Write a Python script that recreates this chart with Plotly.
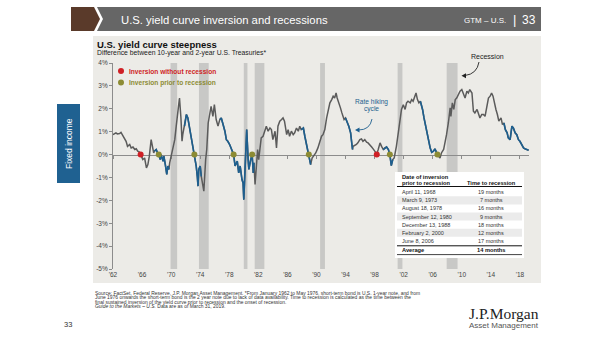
import plotly.graph_objects as go

# ---------------- data ----------------
dates = [
    1962.0, 1962.2, 1962.4, 1962.6, 1962.9, 1963.1, 1963.35, 1963.6, 1963.8, 1964.0,
    1964.3, 1964.5, 1964.75, 1965.0, 1965.2, 1965.4, 1965.6, 1965.8, 1966.1, 1966.35,
    1966.6, 1966.8, 1967.0, 1967.25, 1967.4, 1967.6, 1967.7, 1967.95, 1968.1, 1968.3,
    1968.5, 1968.6, 1968.9, 1969.0, 1969.2, 1969.4, 1969.55, 1969.7, 1969.8, 1970.0,
    1970.25, 1970.5, 1970.7, 1970.85, 1971.0, 1971.15, 1971.35, 1971.5, 1971.6, 1971.85,
    1972.1, 1972.3, 1972.5, 1972.75, 1972.96, 1973.2, 1973.45, 1973.6, 1973.7, 1973.8,
    1974.0, 1974.15, 1974.3, 1974.5, 1974.75, 1974.9, 1975.1, 1975.3, 1975.5, 1975.75,
    1975.95, 1976.2, 1976.45, 1976.7, 1976.9,
    1977.15, 1977.4, 1977.6, 1977.8, 1978.05, 1978.3, 1978.6, 1978.8, 1979.1, 1979.3,
    1979.5, 1979.75, 1979.9, 1980.0, 1980.2, 1980.4, 1980.6, 1980.7, 1980.95, 1981.15,
    1981.3, 1981.4, 1981.55, 1981.7, 1981.9, 1982.05, 1982.25, 1982.4, 1982.65, 1982.9,
    1983.1, 1983.35, 1983.6, 1983.8, 1984.0, 1984.3, 1984.5, 1984.7, 1984.95, 1985.2,
    1985.4, 1985.6, 1985.9, 1986.1, 1986.3, 1986.55, 1986.8, 1987.0, 1987.25, 1987.5,
    1987.7, 1987.9, 1988.2, 1988.4, 1988.6, 1988.95, 1989.2, 1989.4, 1989.6, 1989.9,
    1990.2, 1990.45, 1990.7, 1990.9, 1991.15,
    1991.4, 1991.6, 1991.85, 1992.1, 1992.3, 1992.5, 1992.7, 1992.85, 1993.1, 1993.3,
    1993.5, 1993.8, 1994.0, 1994.2, 1994.45, 1994.7, 1994.8, 1994.96, 1995.05, 1995.3,
    1995.5, 1995.7, 1995.97, 1996.2, 1996.4, 1996.65, 1996.9, 1997.1, 1997.35, 1997.6,
    1997.8, 1998.05, 1998.3, 1998.5, 1998.75, 1998.96, 1999.2, 1999.4, 1999.65, 1999.9,
    2000.1, 2000.3, 2000.5, 2000.7, 2000.85, 2001.0, 2001.26, 2001.5, 2001.7, 2001.95,
    2002.2, 2002.4, 2002.6, 2002.9, 2003.1, 2003.3, 2003.55, 2003.7, 2003.9, 2004.1,
    2004.3, 2004.6, 2004.8, 2005.0, 2005.25, 2005.5,
    2005.65, 2005.86, 2006.1, 2006.3, 2006.65, 2006.8, 2007.0, 2007.2, 2007.5, 2007.7,
    2007.9, 2008.15, 2008.4, 2008.5, 2008.7, 2008.9, 2009.1, 2009.3, 2009.5, 2009.76,
    2010.0, 2010.2, 2010.45, 2010.7, 2010.9, 2011.1, 2011.4, 2011.6, 2011.8, 2012.1,
    2012.3, 2012.5, 2012.75, 2012.98, 2013.2, 2013.4, 2013.67, 2013.9, 2014.1, 2014.3,
    2014.5, 2014.7, 2014.9, 2015.1, 2015.4, 2015.6, 2015.8, 2016.0, 2016.24, 2016.4,
    2016.65, 2016.9, 2017.1, 2017.34, 2017.57, 2017.8, 2018.0, 2018.26, 2018.5, 2018.7,
    2018.95, 2019.2,
]
spread = [
    0.87, 0.90, 0.95, 0.90, 0.92, 0.97, 0.83, 0.65, 0.58, 0.36,
    0.44, 0.29, 0.33, 0.22, 0.25, 0.15, 0.12, 0.00, -0.22, -0.15,
    -0.58, -0.44, -0.07, 0.65, 0.36, 0.07, 0.15, 0.22, 0.10, 0.00,
    -0.22, 0.00, -0.29, -0.07, -0.44, -0.87, -0.50, -0.65, -0.36, -0.07,
    0.29, 0.65, 1.24, 1.60, 1.97, 2.47, 1.60, 0.58, 0.87, 1.24,
    1.75, 1.60, 1.24, 0.80, 0.36, 0.03, -0.50, -0.95, -1.38, -0.65,
    -0.50, -0.95, -1.31, -1.60, -0.22, 0.22, 1.38, 1.75, 2.10, 1.67,
    2.18, 1.53, 1.24, 1.53, 1.60,
    1.31, 1.02, 0.65, 0.58, 0.44, 0.22, 0.00, -0.50, -0.29, -0.80,
    -0.50, -1.09, -1.24, -1.97, -0.22, 1.09, -0.22, -0.65, -0.22, 0.00,
    -0.80, -0.36, -1.31, -0.50, 0.22, -0.22, 0.36, 0.73, 0.80, 1.09,
    1.24, 1.02, 1.16, 1.09, 0.65, 1.02, 0.29, 1.24, 1.46, 1.53,
    1.60, 1.46, 0.87, 1.09, 0.80, 1.02, 0.87, 0.95, 1.16, 1.02,
    1.24, 1.09, 1.16, 0.80, 0.51, 0.00, -0.44, -0.15, -0.07, 0.07,
    0.29, 0.50, 0.80, 0.87, 1.09,
    1.60, 1.89, 2.26, 2.40, 2.55, 2.47, 2.69, 2.47, 2.26, 2.04,
    1.82, 1.53, 1.60, 1.46, 1.24, 0.95, 0.51, 0.22, 0.36, 0.39,
    0.44, 0.51, 0.65, 0.68, 0.58, 0.65, 0.54, 0.51, 0.44, 0.33,
    0.25, 0.15, 0.03, 0.22, 0.51, 0.36, 0.22, 0.29, 0.33, 0.22,
    0.00, -0.48, -0.22, -0.15, 0.07, 0.36, 0.95, 1.53, 1.97, 2.18,
    1.97, 2.26, 2.33, 2.26, 2.40, 2.33, 2.55, 2.69, 2.40, 2.26,
    2.33, 1.97, 1.60, 1.31, 0.87, 0.44,
    0.29, 0.10, 0.15, 0.25, 0.00, -0.07, -0.15, 0.07, 0.22, 0.65,
    0.87, 1.38, 2.04, 1.67, 2.26, 1.97, 2.40, 2.47, 2.62, 2.77,
    2.84, 2.69, 2.47, 2.77, 2.69, 2.84, 2.69, 1.89, 1.82, 1.97,
    1.75, 1.60, 1.75, 1.75, 1.67, 1.97, 2.47, 2.55, 2.69, 2.55,
    2.18, 1.97, 1.75, 1.46, 1.60, 1.31, 1.38, 1.09, 0.95, 0.73,
    0.65, 1.24, 1.16, 0.95, 0.87, 0.65, 0.58, 0.44, 0.29, 0.25,
    0.22, 0.19,
]

hike_start = [1967.7, 1971.85, 1976.7, 1987.9, 1994.0, 1999.2, 2004.3, 2015.8]
hike_end = [1969.7, 1974.15, 1981.4, 1989.2, 1994.96, 2000.5, 2006.65, 2019.2]

recession_start = [1969.92, 1973.83, 1980.0, 1981.5, 1990.5, 2001.17, 2007.92]
recession_end = [1970.83, 1975.17, 1980.5, 1982.83, 1991.17, 2001.83, 2009.42]

no_recession_dates = [1965.8, 1998.3]
no_recession_values = [0.0, 0.0]
prior_dates = [1968.3, 1973.2, 1978.6, 1981.15, 1988.95, 2000.1, 2006.65]
prior_values = [0.0, 0.0, 0.0, 0.0, 0.0, 0.0, 0.0]

year_ticks = list(range(1962, 2019, 4))
year_labels = ["'" + str(y)[2:] for y in year_ticks]
pct_ticks = [-5, -4, -3, -2, -1, 0, 1, 2, 3, 4]
pct_labels = [f"{v}%" for v in pct_ticks]

table_dates = ["April 11, 1968", "March 9, 1973", "August 18, 1978", "September 12, 1980",
               "December 13, 1988", "February 2, 2000", "June 8, 2006"]
table_months = ["19 months", "7 months", "16 months", "9 months",
                "18 months", "12 months", "17 months"]
table_average = "14 months"

# ---------------- styling / geometry ----------------
W, H = 605, 341
L, R, T, B = 113, 529, 63, 269
X0, X1 = 1962.0, 2019.25
Y0, Y1 = -5, 4

SANS = "Liberation Sans, Arial, sans-serif"
NARROW = "Liberation Sans Narrow, Arial Narrow, Liberation Sans, sans-serif"
SERIF = "Liberation Serif, Times New Roman, serif"
GRAY_LINE = "#5b5b5b"
BLUE = "#1d5f8f"
RED = "#cf1f25"
OLIVE = "#8c8b34"
PANEL = "#ecebe7"
SHADE = "#c8c8c6"


def fx(p):
    return (p - L) / (R - L)


def fy(p):
    return (B - p) / (B - T)


def in_hike(x):
    return any(s <= x <= e for s, e in zip(hike_start, hike_end))


blue_vals = [v if in_hike(d) else None for d, v in zip(dates, spread)]

fig = go.Figure()
fig.add_trace(go.Scatter(x=dates, y=spread, mode="lines",
                         line=dict(color=GRAY_LINE, width=1.5), hoverinfo="skip"))
fig.add_trace(go.Scatter(x=dates, y=blue_vals, mode="lines", connectgaps=False,
                         line=dict(color=BLUE, width=1.6), hoverinfo="skip"))
fig.add_trace(go.Scatter(x=no_recession_dates, y=no_recession_values, mode="markers",
                         marker=dict(color=RED, size=6, line=dict(width=0))))
fig.add_trace(go.Scatter(x=prior_dates, y=prior_values, mode="markers",
                         marker=dict(color=OLIVE, size=6, line=dict(width=0))))
# invisible trace carrying the zero-line axis
fig.add_trace(go.Scatter(x=[X0], y=[0], xaxis="x2", yaxis="y", mode="markers",
                         marker=dict(opacity=0), hoverinfo="skip"))

shapes = []
ann = []


def rect(x0, y0, x1, y1, color, layer="below"):
    shapes.append(dict(type="rect", xref="paper", yref="paper", x0=fx(x0), x1=fx(x1),
                       y0=fy(y0), y1=fy(y1), fillcolor=color, line=dict(width=0), layer=layer))


def path(points, color, closed=True, layer="above", width=0, linecolor=None):
    d = "M " + " L ".join(f"{fx(a):.5f},{fy(b):.5f}" for a, b in points) + (" Z" if closed else "")
    shapes.append(dict(type="path", xref="paper", yref="paper", path=d,
                       fillcolor=color if closed else None,
                       line=dict(width=width, color=linecolor or color), layer=layer))


def hline(x0, x1, y, color="#111", width=1):
    shapes.append(dict(type="line", xref="paper", yref="paper", x0=fx(x0), x1=fx(x1),
                       y0=fy(y), y1=fy(y), line=dict(color=color, width=width), layer="above"))


def text(x, y, s, size, color="#222", anchor="left", family=SANS, **kw):
    ann.append(dict(x=fx(x), y=fy(y), xref="paper", yref="paper", text=s, showarrow=False,
                    xanchor=anchor, yanchor="middle",
                    font=dict(size=size, color=color, family=family), **kw))


# panel background
rect(93, 36, 541, 283, PANEL)

# recession shading
for s, e in zip(recession_start, recession_end):
    shapes.append(dict(type="rect", xref="x", yref="paper", x0=s, x1=e, y0=0, y1=1,
                       fillcolor=SHADE, line=dict(width=0), layer="below"))

# header
path([(71, 7), (94, 7), (100, 19), (94, 31), (71, 31)], "#5a3a2a")
path([(97, 7), (541, 7), (541, 31), (97, 31), (103, 19)], "#666666")
text(119, 19.5, "U.S. yield curve inversion and recessions", 11.3, "#ffffff", family=NARROW)
text(508, 20, "GTM – U.S.", 8, "#ffffff", anchor="right", family=NARROW)
text(514, 19, "|", 13, "#ffffff", anchor="center", family=NARROW)
text(520, 19.5, "33", 12, "#ffffff", family=NARROW)

# side tab
rect(57, 104, 80, 183, "#1f6191", layer="above")
text(68.5, 143.5, "Fixed income", 8.5, "#ffffff", anchor="center", textangle=-90)

# panel titles
text(95, 44.5, "<b>U.S. yield curve steepness</b>", 9.5, "#111111")
text(95, 53, "Difference between 10-year and 2-year U.S. Treasuries*", 6.8, "#222222")

# legend
for yy, col, lab in [(71, RED, "Inversion without recession"), (82.5, OLIVE, "Inversion prior to recession")]:
    shapes.append(dict(type="circle", xref="paper", yref="paper", xsizemode="pixel",
                       ysizemode="pixel", xanchor=fx(121), yanchor=fy(yy), x0=-3, x1=3,
                       y0=-3, y1=3, fillcolor=col, line=dict(width=0), layer="above"))
    text(127, yy, f"<b>{lab}</b>", 6.6, col)

# annotations: Recession
text(487, 56, "Recession", 7, "#222222", anchor="center")
rc = [(479, 62), (477, 74), (465, 75.5)]
shapes.append(dict(type="path", xref="paper", yref="paper",
                   path=f"M {fx(rc[0][0])},{fy(rc[0][1])} Q {fx(rc[1][0])},{fy(rc[1][1])} {fx(rc[2][0])},{fy(rc[2][1])}",
                   line=dict(color="#222222", width=0.9), layer="above"))
path([(461.5, 75.8), (466, 73.3), (466, 78.2)], "#222222")

# annotations: rate hiking cycle
text(371, 101.5, "Rate hiking", 6.6, BLUE, anchor="center")
text(371, 109.3, "cycle", 6.6, BLUE, anchor="center")
hc = [(372, 119), (370, 130), (358.5, 130)]
shapes.append(dict(type="path", xref="paper", yref="paper",
                   path=f"M {fx(hc[0][0])},{fy(hc[0][1])} Q {fx(hc[1][0])},{fy(hc[1][1])} {fx(hc[2][0])},{fy(hc[2][1])}",
                   line=dict(color=BLUE, width=0.9), layer="above"))
path([(355, 130), (359.5, 127.5), (359.5, 132.5)], BLUE)

# table
TX0, TX1 = 395, 524
rect(TX0, 172, TX1, 258, "#ffffff", layer="above")
row_h = 8.1
row_top = 188.2
for i in range(len(table_dates)):
    y0 = row_top + i * row_h
    if i % 2 == 1:
        rect(TX0 + 2, y0, TX1 - 2, y0 + row_h, "#ebebeb", layer="above")
    text(399.5, y0 + row_h / 2, table_dates[i], 5.5, "#333333")
    text(491, y0 + row_h / 2, table_months[i], 5.5, "#333333", anchor="center")
text(399.5, 177.3, "<b>Date of inversion</b>", 5.7, "#111111")
text(399.5, 182.6, "<b>prior to recession</b>", 5.7, "#111111")
text(491, 182.6, "<b>Time to recession</b>", 5.7, "#111111", anchor="center")
hline(TX0 + 2, TX1 - 2, 186.5, "#111111", 1)
hline(TX0 + 2, TX1 - 2, 245.8, "#111111", 1)
avg_y = 250.2
text(399.5, avg_y, "<b>Average</b>", 5.7, "#111111")
text(491, avg_y, f"<b>{table_average}</b>", 5.7, "#111111", anchor="center")
hline(TX0 + 2, TX1 - 2, 254.6, "#111111", 0.8)

# footnote
foot = [
    "Source: FactSet, Federal Reserve, J.P. Morgan Asset Management. *From January 1962 to May 1976, short-term bond is U.S. 1-year note, and from",
    "June 1976 onwards the short-term bond is the 2 year note due to lack of data availability. Time to recession is calculated as the time between the",
    "final sustained inversion of the yield curve prior to recession and the onset of recession.",
    "<i>Guide to the Markets – U.S.</i> Data are as of March 31, 2019.",
]
for i, line in enumerate(foot):
    text(93, 293.3 + i * 4.35, line, 4.95, "#333333")

# page number and logo
text(68, 324, "33", 7.5, "#333333", anchor="center")
text(541, 313.5, "J.P.Morgan", 15.5, "#222222", anchor="right", family=SERIF)
text(541, 325, "Asset Management", 8, "#555555", anchor="right", family=NARROW)

fig.update_layout(
    width=W, height=H,
    margin=dict(l=L, r=W - R, t=T, b=H - B, pad=0),
    paper_bgcolor="#ffffff",
    plot_bgcolor=PANEL,
    showlegend=False,
    shapes=shapes,
    annotations=ann,
    xaxis=dict(range=[X0, X1], tickvals=year_ticks, ticktext=year_labels,
               showline=False, ticks="", showgrid=False, zeroline=False,
               tickfont=dict(size=6.5, color="#444444", family=SANS), fixedrange=True),
    xaxis2=dict(range=[X0, X1], overlaying="x", anchor="free", position=(0 - Y0) / (Y1 - Y0),
                side="bottom", showline=True, linecolor="#8c8c8c", linewidth=1,
                ticks="outside", ticklen=3, tickcolor="#8c8c8c", tickwidth=1,
                tickvals=year_ticks, showticklabels=False, showgrid=False,
                zeroline=False, layer="below traces", fixedrange=True),
    yaxis=dict(range=[Y0, Y1], tickvals=pct_ticks, ticktext=pct_labels,
               showline=True, linecolor="#8c8c8c", linewidth=1, ticks="outside",
               ticklen=3, tickcolor="#8c8c8c", showgrid=False, zeroline=False,
               tickfont=dict(size=6.5, color="#444444", family=SANS), fixedrange=True),
)

fig.write_html("out.html")
